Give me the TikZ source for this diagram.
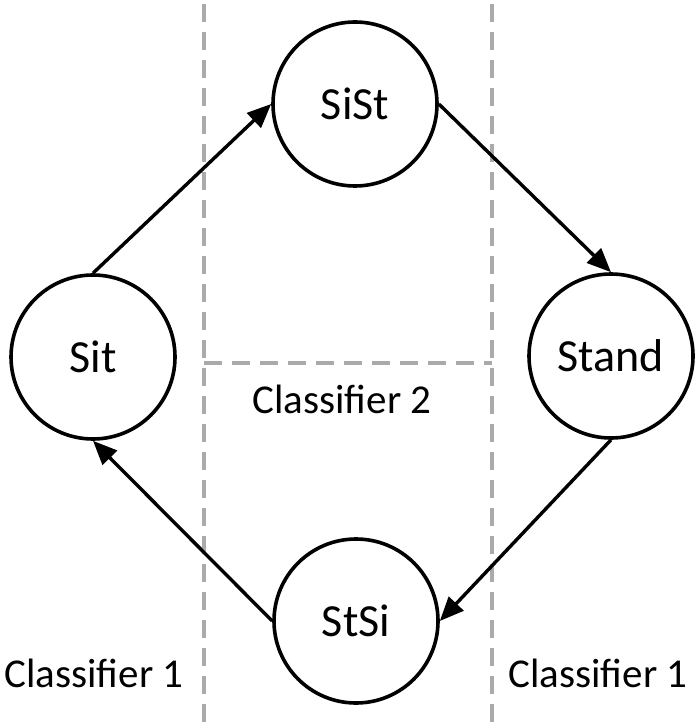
\documentclass[tikz,border=0pt]{standalone}
\usepackage{fontspec}
\setmainfont{Carlito}
\usetikzlibrary{arrows.meta}
\definecolor{divgray}{RGB}{170,170,170}
\begin{document}
\begin{tikzpicture}[x=1pt,y=-1pt,
    state/.style={circle, draw, line width=3.6pt, minimum size=164pt, inner sep=0pt,
      font=\fontsize{46}{46}\selectfont},
    trans/.style={line width=3.4pt, -{Triangle[length=24pt,width=20pt]}},
    divider/.style={draw=divgray, line width=3.6pt, dash pattern=on 18pt off 10pt},
    label/.style={anchor=base, font=\fontsize{41}{41}\selectfont}]
      \useasboundingbox (0,0) rectangle (700,727);

      % classifier regions
      \draw [divider] (204,4) -- (204,727);
      \draw [divider] (492,4) -- (492,727);
      \draw [divider] (204,363) -- (492,363);
      \node [label] (c2) at (342,413) {Classifier 2};
      \node [label] (c1l) at (94,687) {Classifier 1};
      \node [label] (c1r) at (598,687) {Classifier 1};

      % states
      \node [state] (sit) at (93,357) {Sit};
      \node [state] (sist) at (355,104) {SiSt};
      \node [state] (stand) at (611,356) {Stand};
      \node [state] (stsi) at (356,621) {StSi};

      \draw [trans] (sit.north) -- (sist.west);
      \draw [trans] (sist.east) -- (stand.north);
      \draw [trans] (stand.south) -- (stsi.east);
      \draw [trans] (stsi.west) -- (sit.south);
\end{tikzpicture}
\end{document}
